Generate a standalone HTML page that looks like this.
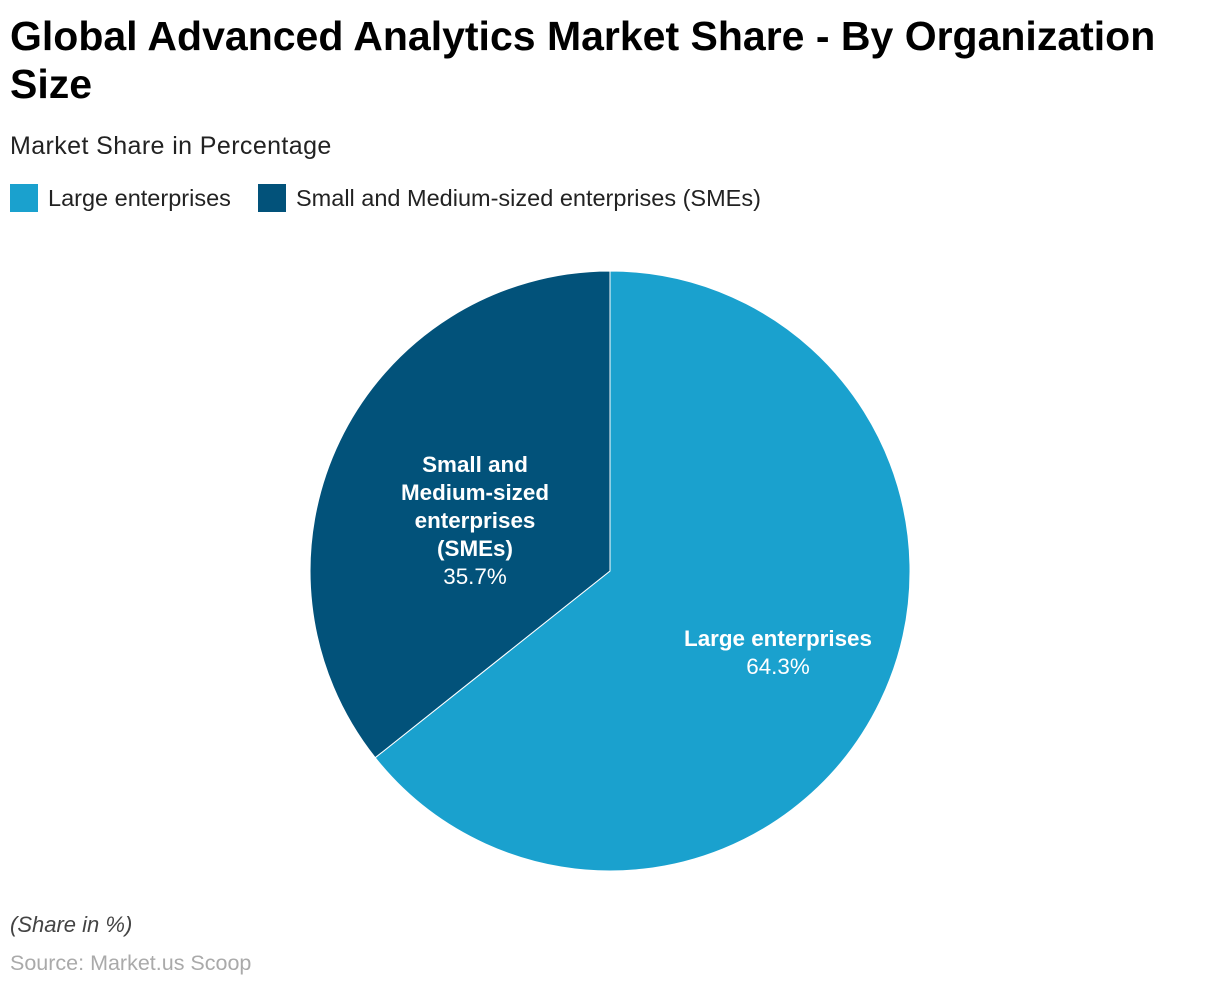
<!DOCTYPE html>
<html><head><meta charset="utf-8"><style>
body{margin:0;width:1220px;height:986px;background:#fff;font-family:"Liberation Sans",sans-serif;position:relative;overflow:hidden}
.t{position:absolute;left:10px;top:12px;font-size:41px;font-weight:bold;line-height:48px;color:#000;width:1180px}
.s{position:absolute;left:10px;top:132px;font-size:25px;letter-spacing:0.4px;color:#222}
.lg{position:absolute;top:184px;font-size:23.5px;color:#222;display:flex;align-items:center}
.sw{width:28px;height:28px;margin-right:10px}
.f1{position:absolute;left:10px;top:912px;font-size:22px;font-style:italic;color:#444}
.f2{position:absolute;left:10px;top:951px;font-size:21.5px;color:#aaa}
</style></head><body>
<div class="t">Global Advanced Analytics Market Share - By Organization Size</div>
<div class="s">Market Share in Percentage</div>
<div class="lg" style="left:10px"><div class="sw" style="background:#1aa1ce"></div>Large enterprises</div>
<div class="lg" style="left:258px"><div class="sw" style="background:#02527a"></div>Small and Medium-sized enterprises (SMEs)</div>
<svg width="1220" height="986" style="position:absolute;left:0;top:0">
<path d="M610,571 L610,271 A300,300 0 1,1 375.2,757.7 Z" fill="#1aa1ce" stroke="#fff" stroke-width="1"/>
<path d="M610,571 L375.2,757.7 A300,300 0 0,1 610,271 Z" fill="#02527a" stroke="#fff" stroke-width="1"/>
<g font-family="Liberation Sans, sans-serif" font-size="22.4" fill="#fff" text-anchor="middle">
<text x="475" y="472" font-weight="bold">Small and</text>
<text x="475" y="500" font-weight="bold">Medium-sized</text>
<text x="475" y="528" font-weight="bold">enterprises</text>
<text x="475" y="556" font-weight="bold">(SMEs)</text>
<text x="475" y="584">35.7%</text>
<text x="778" y="646" font-weight="bold">Large enterprises</text>
<text x="778" y="674">64.3%</text>
</g></svg>
<div class="f1">(Share in %)</div>
<div class="f2">Source: Market.us Scoop</div>
</body></html>
